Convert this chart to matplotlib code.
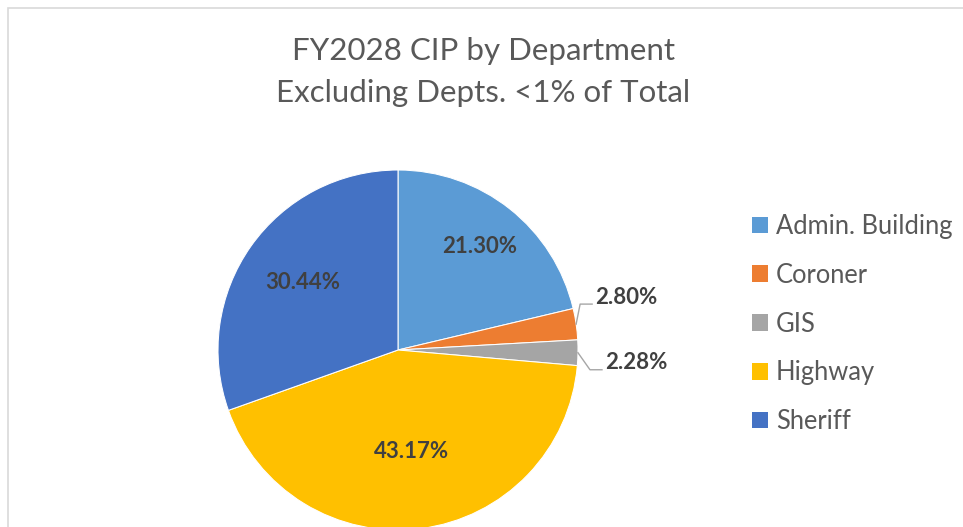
import numpy as np
import matplotlib.pyplot as plt
from matplotlib.patches import Rectangle

depts  = ['Admin. Building', 'Coroner', 'GIS', 'Highway', 'Sheriff']
shares = [21.30, 2.80, 2.28, 43.17, 30.44]
colors = ['#5B9BD5', '#ED7D31', '#A5A5A5', '#FFC000', '#4472C4']

W, H = 963, 527
plt.rcParams['font.family'] = ['Lato', 'DejaVu Sans']

fig = plt.figure(figsize=(W / 100, H / 100), dpi=100)
ax = fig.add_axes([0, 0, 1, 1])

cx, cy, r = 398, H - 350, 180
wedges, _ = ax.pie(shares, colors=colors, startangle=90, counterclock=False,
                   center=(cx, cy), radius=r,
                   wedgeprops=dict(edgecolor='white', linewidth=0.75))

ax.set_xlim(0, W)
ax.set_ylim(0, H)
ax.set_aspect('equal')
ax.axis('off')

# chart border (right/bottom edges fall outside the crop)
ax.add_patch(Rectangle((7.5, -20), W + 40, H - 7.5 + 20, fill=False,
                       edgecolor='#D9D9D9', linewidth=1.2, clip_on=False))

lbl_kw = dict(fontsize=16, fontweight='bold', color='#404040')

# inside labels
inside = {0: 0.73, 3: 0.57, 4: 0.65}
for i, dist in inside.items():
    w = wedges[i]
    ang = np.deg2rad((w.theta1 + w.theta2) / 2)
    ax.text(cx + dist * r * np.cos(ang), cy + dist * r * np.sin(ang),
            '{0:.2f}%'.format(shares[i]), ha='center', va='center', **lbl_kw)

# outside labels with leader lines
outside = {1: (4, 20, 12), 2: (12, -17, 12)}
for i, (dx, dy, hx) in outside.items():
    w = wedges[i]
    ang = np.deg2rad((w.theta1 + w.theta2) / 2)
    x0, y0 = cx + r * np.cos(ang), cy + r * np.sin(ang)
    xs = [x0, x0 + dx, x0 + dx + hx]
    ys = [y0, y0 + dy, y0 + dy]
    ax.plot(xs, ys, color='#A6A6A6', linewidth=1)
    ax.text(xs[-1] + 3, ys[-1] + 7, '{0:.2f}%'.format(shares[i]),
            ha='left', va='center', **lbl_kw)

fig.text(483 / W, 1 - 72 / H, 'FY2028 CIP by Department\nExcluding Depts. <1% of Total',
         ha='center', va='center', fontsize=22.5, color='#595959', linespacing=1.6)

handles = [Rectangle((0, 0), 1, 1, facecolor=c) for c in colors]
ax.legend(handles, depts, loc='upper left', bbox_to_anchor=(752 / W, 1 - 214 / H),
          frameon=False, fontsize=18.4, labelcolor='#595959',
          handlelength=0.63, handleheight=0.63, handletextpad=0.3,
          labelspacing=0.93, borderpad=0, borderaxespad=0)

fig.savefig('out.png', dpi=100)
